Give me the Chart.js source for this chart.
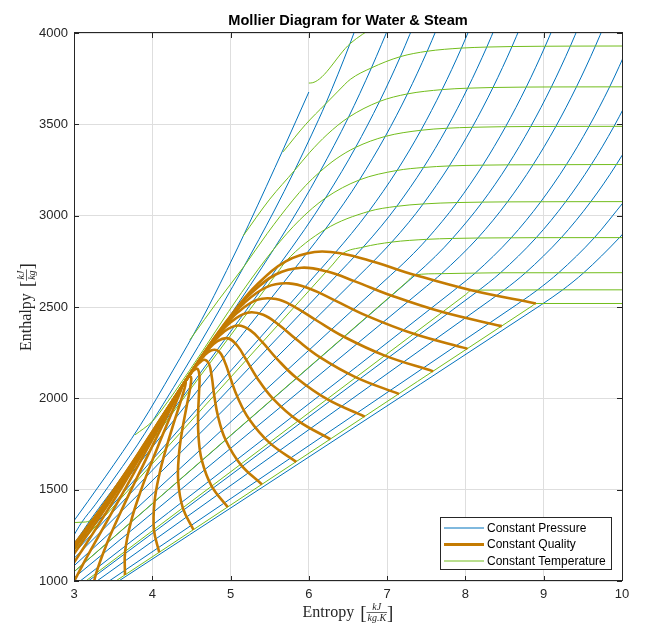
<!DOCTYPE html>
<html>
<head>
<meta charset="utf-8">
<script src="https://cdn.jsdelivr.net/npm/chart.js@4.4.1/dist/chart.umd.min.js"></script>
<style>
  html, body { margin: 0; padding: 0; background: #fff; }
  canvas { display: block; }
</style>
</head>
<body>
<canvas id="mollier" width="658" height="634"></canvas>
<script>
// axis ticks
const entropyTicks = [3, 4, 5, 6, 7, 8, 9, 10];
const enthalpyTicks = [1000, 1500, 2000, 2500, 3000, 3500, 4000];

// constant quality lines, points at T = 10,50,100,150,200,250,300,340,360,370,374 C
const qualities = [0, 0.05, 0.1, 0.15, 0.2, 0.25, 0.3, 0.35, 0.4, 0.45, 0.5,
                   0.55, 0.6, 0.65, 0.7, 0.75, 0.8, 0.85, 0.9, 0.95, 1];
const qualityS = [
  [0.151, 0.704, 1.307, 1.842, 2.331, 2.793, 3.255, 3.660, 3.915, 4.111, 4.407],
  [0.589, 1.073, 1.609, 2.092, 2.536, 2.957, 3.378, 3.744, 3.972, 4.145, 4.407],
  [1.026, 1.441, 1.912, 2.342, 2.741, 3.121, 3.500, 3.828, 4.029, 4.180, 4.407],
  [1.464, 1.810, 2.214, 2.591, 2.946, 3.285, 3.623, 3.911, 4.086, 4.214, 4.407],
  [1.901, 2.178, 2.517, 2.841, 3.151, 3.449, 3.745, 3.995, 4.143, 4.249, 4.407],
  [2.339, 2.547, 2.819, 3.091, 3.356, 3.613, 3.868, 4.079, 4.200, 4.283, 4.407],
  [2.776, 2.916, 3.121, 3.341, 3.561, 3.777, 3.990, 4.163, 4.256, 4.317, 4.407],
  [3.214, 3.284, 3.424, 3.591, 3.766, 3.941, 4.113, 4.247, 4.313, 4.352, 4.407],
  [3.651, 3.653, 3.726, 3.840, 3.971, 4.105, 4.235, 4.330, 4.370, 4.386, 4.407],
  [4.089, 4.021, 4.029, 4.090, 4.176, 4.269, 4.358, 4.414, 4.427, 4.421, 4.407],
  [4.526, 4.390, 4.331, 4.340, 4.381, 4.433, 4.480, 4.498, 4.484, 4.455, 4.407],
  [4.964, 4.758, 4.633, 4.590, 4.586, 4.597, 4.603, 4.582, 4.541, 4.489, 4.407],
  [5.401, 5.127, 4.936, 4.840, 4.791, 4.761, 4.725, 4.666, 4.598, 4.524, 4.407],
  [5.839, 5.496, 5.238, 5.089, 4.996, 4.925, 4.848, 4.749, 4.655, 4.558, 4.407],
  [6.276, 5.864, 5.541, 5.339, 5.201, 5.089, 4.970, 4.833, 4.712, 4.593, 4.407],
  [6.714, 6.233, 5.843, 5.589, 5.406, 5.253, 5.093, 4.917, 4.769, 4.627, 4.407],
  [7.151, 6.602, 6.145, 5.839, 5.611, 5.417, 5.215, 5.001, 4.825, 4.661, 4.407],
  [7.589, 6.970, 6.448, 6.089, 5.816, 5.581, 5.338, 5.085, 4.882, 4.696, 4.407],
  [8.026, 7.339, 6.750, 6.338, 6.021, 5.745, 5.460, 5.168, 4.939, 4.730, 4.407],
  [8.464, 7.707, 7.053, 6.588, 6.226, 5.909, 5.583, 5.252, 4.996, 4.765, 4.407],
  [8.900, 8.075, 7.354, 6.837, 6.430, 6.072, 5.705, 5.336, 5.053, 4.798, 4.407]
];
const qualityH = [
  [42.0, 209.3, 419.2, 632.2, 852.3, 1085.7, 1344.8, 1594.5, 1760.5, 1890.7, 2084.3],
  [165.9, 328.4, 532.0, 737.9, 949.3, 1171.5, 1415.0, 1645.9, 1796.5, 1912.9, 2084.3],
  [289.7, 447.5, 644.8, 843.6, 1046.3, 1257.2, 1485.3, 1697.3, 1832.6, 1935.1, 2084.3],
  [413.6, 566.6, 757.7, 949.3, 1143.3, 1343.0, 1555.5, 1748.6, 1868.6, 1957.3, 2084.3],
  [537.4, 685.7, 870.5, 1055.0, 1240.3, 1428.7, 1625.8, 1800.0, 1904.6, 1979.5, 2084.3],
  [661.3, 804.8, 983.3, 1160.7, 1337.3, 1514.5, 1696.0, 1851.4, 1940.7, 2001.7, 2084.3],
  [785.2, 923.9, 1096.1, 1266.3, 1434.2, 1600.3, 1766.2, 1902.8, 1976.7, 2023.8, 2084.3],
  [909.0, 1043.0, 1208.9, 1372.0, 1531.2, 1686.0, 1836.5, 1954.2, 2012.7, 2046.0, 2084.3],
  [1032.9, 1162.1, 1321.8, 1477.7, 1628.2, 1771.8, 1906.7, 2005.5, 2048.7, 2068.2, 2084.3],
  [1156.7, 1281.2, 1434.6, 1583.4, 1725.2, 1857.6, 1976.9, 2056.9, 2084.8, 2090.4, 2084.3],
  [1280.6, 1400.3, 1547.4, 1689.1, 1822.2, 1943.3, 2047.2, 2108.3, 2120.8, 2112.6, 2084.3],
  [1404.5, 1519.4, 1660.2, 1794.8, 1919.2, 2029.1, 2117.4, 2159.7, 2156.8, 2134.8, 2084.3],
  [1528.3, 1638.5, 1773.0, 1900.5, 2016.2, 2114.8, 2187.7, 2211.1, 2192.9, 2157.0, 2084.3],
  [1652.2, 1757.6, 1885.9, 2006.2, 2113.2, 2200.6, 2257.9, 2262.4, 2228.9, 2179.2, 2084.3],
  [1776.0, 1876.7, 1998.7, 2111.9, 2210.2, 2286.3, 2328.2, 2313.8, 2264.9, 2201.4, 2084.3],
  [1899.9, 1995.8, 2111.5, 2217.6, 2307.2, 2372.1, 2398.4, 2365.2, 2300.9, 2223.6, 2084.3],
  [2023.8, 2114.9, 2224.3, 2323.2, 2404.1, 2457.9, 2468.6, 2416.6, 2337.0, 2245.8, 2084.3],
  [2147.6, 2234.0, 2337.1, 2428.9, 2501.1, 2543.6, 2538.9, 2467.9, 2373.0, 2268.0, 2084.3],
  [2271.5, 2353.1, 2449.9, 2534.6, 2598.1, 2629.4, 2609.1, 2519.3, 2409.1, 2290.1, 2084.3],
  [2395.3, 2472.2, 2562.8, 2640.3, 2695.1, 2715.1, 2679.4, 2570.7, 2445.1, 2312.3, 2084.3],
  [2519.2, 2591.3, 2675.6, 2745.9, 2792.0, 2800.9, 2749.6, 2622.0, 2481.0, 2334.5, 2084.3]
];

// constant pressure lines
const pressures = ['1 kPa', '2 kPa', '5 kPa', '10 kPa', '20 kPa', '50 kPa', '100 kPa', '200 kPa',
                   '500 kPa', '1 MPa', '2 MPa', '5 MPa', '10 MPa', '20 MPa', '50 MPa', '100 MPa'];
const pressureS = [
  [3.0, 8.9, 8.975, 9.238, 9.511, 9.967, 10.17],
  [3.0, 8.65, 8.723, 8.918, 9.191, 9.647, 10.024],
  [3.0, 8.32, 8.394, 8.495, 8.768, 9.224, 9.601, 9.928, 10.218],
  [3.0, 8.07, 8.149, 8.448, 8.904, 9.281, 9.608, 9.898, 10.161],
  [3.0, 7.83, 7.907, 8.126, 8.585, 8.962, 9.289, 9.579, 9.842, 10.083],
  [3.0, 7.5, 7.593, 7.695, 8.158, 8.537, 8.864, 9.155, 9.418, 9.660, 9.885],
  [3.0, 7.27, 7.359, 7.615, 7.834, 8.216, 8.544, 8.834, 9.098, 9.340, 9.565],
  [3.0, 7.04, 7.127, 7.281, 7.507, 7.893, 8.222, 8.513, 8.777, 9.019, 9.245],
  [3.0, 6.74, 6.821, 7.059, 7.272, 7.460, 7.794, 8.087, 8.352, 8.595, 8.821],
  [3.0, 6.5, 6.585, 6.694, 6.925, 7.123, 7.465, 7.762, 8.029, 8.273, 8.500],
  [3.0, 6.25, 6.339, 6.545, 6.766, 7.127, 7.432, 7.702, 7.949, 8.177],
  [3.0, 5.88, 5.973, 6.208, 6.449, 6.646, 6.976, 7.259, 7.512, 7.744],
  [3.0, 3.062, 3.36, 3.45, 5.53, 5.615, 5.944, 6.212, 6.419, 6.597, 6.903, 7.169, 7.408],
  [3.0, 3.048, 3.207, 3.64, 4.015, 4.1, 4.85, 4.927, 5.554, 5.902, 6.140, 6.505, 6.799, 7.058],
  [2.96, 3.10, 3.27, 3.44, 3.62, 3.81, 4.003, 4.273, 4.588, 5.173, 5.549, 5.818, 6.034, 6.219, 6.525, 6.66],
  [2.95, 3.40, 3.85, 4.26, 4.63, 4.95, 5.23, 5.68, 6.0]
];
const pressureH = [
  [840.0, 2492.7, 2514.0, 2592.6, 2687.5, 2879.5, 2978],
  [869.5, 2511.7, 2533.0, 2592.6, 2687.5, 2879.5, 3076.5],
  [910.3, 2538.5, 2561.2, 2592.6, 2687.5, 2879.5, 3076.5, 3279.6, 3489],
  [941.7, 2558.8, 2583.9, 2687.5, 2879.5, 3076.5, 3279.6, 3489.1, 3705.4],
  [973.8, 2583.2, 2609.7, 2686, 2879, 3076, 3279, 3489, 3705, 3929],
  [1017.2, 2612.3, 2645.2, 2682.5, 2877.7, 3075.5, 3278.9, 3488.7, 3705.1, 3928.5, 4159],
  [1050.1, 2641.8, 2675.0, 2776.6, 2875.3, 3074.3, 3278.2, 3488.1, 3704.7, 3928.2, 4158.6],
  [1083.0, 2672.2, 2706.3, 2769.1, 2870.5, 3071.8, 3276.6, 3487.1, 3704.0, 3927.6, 4158],
  [1124.3, 2713.7, 2748.1, 2855.4, 2961.0, 3064.2, 3272.3, 3483.9, 3701.7, 3925.9, 4156.9],
  [1152.9, 2738.5, 2777.1, 2827.9, 2942.6, 3051.2, 3263.9, 3478.5, 3697.9, 3923.1, 4154.8],
  [1177.3, 2755.4, 2798.3, 2902.5, 3023.5, 3247.6, 3467.6, 3690.1, 3917.4, 4150],
  [1196.6, 2743.4, 2794.3, 2924.5, 3068.4, 3195.7, 3433.8, 3666.5, 3900.1, 4137],
  [1201, 1235, 1407.6, 1460.2, 2675.2, 2725.5, 2923.4, 3096.5, 3240.9, 3373.7, 3625.3, 3870.5, 4114.9],
  [1207, 1233, 1333.3, 1586, 1826.3, 1880.6, 2360.8, 2410, 2818.1, 3060.1, 3239.3, 3537.6, 3809.0, 4069.7],
  [1222, 1322, 1417, 1518, 1627, 1745, 1874.7, 2060.7, 2284.7, 2723, 3020, 3248, 3442, 3617, 3941, 4100],
  [1300, 1570, 1855, 2150, 2430, 2700, 2950, 3370, 3677]
];

// constant temperature lines
const temperatures = ['10 C', '50 C', '100 C', '200 C', '300 C', '400 C', '500 C', '600 C', '700 C', '800 C'];
const temperatureS = [
  [3.0, 8.85, 8.900, 10.2],
  [3.0, 8.0, 8.075, 8.175, 9.238, 10.2],
  [3.0, 7.25, 7.354, 7.695, 8.448, 9.511, 10.2],
  [3.0, 6.3, 6.430, 6.694, 7.059, 7.507, 7.834, 8.158, 8.904, 10.2],
  [2.9, 3.15, 3.255, 3.35, 5.6, 5.705, 6.208, 6.766, 7.123, 7.460, 7.893, 8.216, 8.537, 9.281, 10.2],
  [3.78, 4.003, 4.11, 4.476, 5.142, 5.554, 5.881, 6.212, 6.646, 7.127, 7.465, 7.794, 8.222, 8.544, 9.608, 10.2],
  [4.48, 4.85, 5.173, 5.470, 5.796, 5.961, 6.140, 6.348, 6.597, 6.976, 7.432, 7.762, 8.087, 8.834, 9.898, 10.2],
  [5.16, 5.50, 5.818, 6.011, 6.233, 6.505, 6.903, 7.259, 7.702, 8.029, 8.352, 8.777, 9.098, 10.161, 10.3],
  [5.67, 5.96, 6.21, 6.375, 6.529, 6.799, 7.169, 7.512, 7.949, 8.273, 8.595, 9.340, 9.660, 10.2],
  [6.0, 6.05, 6.525, 6.85]
];
const temperatureH = [
  [848.7, 2505.2, 2519.2, 2519.2],
  [951.3, 2567.0, 2591.3, 2592.6, 2594, 2594],
  [1050.9, 2636.8, 2675.6, 2682.5, 2687.5, 2687.5, 2688],
  [1168.8, 2730.2, 2792.0, 2827.9, 2855.4, 2870.5, 2875.3, 2877.7, 2879.5, 2880],
  [1320, 1323, 1344.8, 1399.2, 2688.8, 2749.6, 2924.5, 3023.5, 3051.2, 3064.2, 3071.8, 3074.3, 3075.5, 3076.5, 3077],
  [1800, 1874.7, 1930.9, 2152.8, 2580.2, 2818.1, 2975.7, 3096.5, 3195.7, 3247.6, 3263.9, 3272.3, 3276.6, 3278.2, 3279.6, 3280],
  [2320, 2540, 2723, 2903.3, 3084.8, 3165.9, 3239.3, 3310.8, 3373.7, 3433.8, 3467.6, 3478.5, 3483.9, 3488.1, 3489.1, 3489],
  [2889, 3090, 3248, 3346.4, 3443.9, 3537.6, 3625.3, 3666.5, 3690.1, 3697.9, 3701.7, 3704.0, 3704.7, 3705.4, 3705.4],
  [3349, 3500, 3610, 3682, 3746, 3809.0, 3870.5, 3900.1, 3917.4, 3923.1, 3925.9, 3928.2, 3928.5, 3929],
  [3726, 3728, 3941, 4040]
];

const BLUE = '#0072BD';
const ORANGE = '#C47B02';
const GREEN = '#72BD1C';
const AXIS = '#262626';
const SANS = '"Liberation Sans", Arial, Helvetica, sans-serif';
const SERIF = '"Liberation Serif", "Times New Roman", serif';

function toPoints(sArr, hArr) {
    return sArr.map((s, i) => ({x: s, y: hArr[i]}));
}

const datasets = [];
// first dataset ends up on top, so quality lines go first
qualities.forEach((q, i) => datasets.push({
    label: 'x = ' + q, data: toPoints(qualityS[i], qualityH[i]),
    borderColor: ORANGE, borderWidth: 2.6, tension: 0.4
}));
temperatures.forEach((t, i) => datasets.push({
    label: t, data: toPoints(temperatureS[i], temperatureH[i]),
    borderColor: GREEN, borderWidth: 1, cubicInterpolationMode: 'monotone'
}));
pressures.forEach((p, i) => datasets.push({
    label: p, data: toPoints(pressureS[i], pressureH[i]),
    borderColor: BLUE, borderWidth: 1, cubicInterpolationMode: 'monotone'
}));
datasets.forEach(d => Object.assign(d, {showLine: true, pointRadius: 0, fill: false, clip: 0}));

const legendItems = [
    {text: 'Constant Pressure', color: BLUE, width: 1},
    {text: 'Constant Quality', color: ORANGE, width: 3},
    {text: 'Constant Temperature', color: GREEN, width: 1}
];

// LaTeX-like label: word [num/den]
function drawAxisLabel(ctx, cx, cy, angle, word, num, den) {
    ctx.save();
    ctx.translate(cx, cy);
    ctx.rotate(angle);
    ctx.fillStyle = AXIS;
    ctx.textAlign = 'left';
    ctx.textBaseline = 'alphabetic';
    const mainFont = '16px ' + SERIF;
    const fracFont = 'italic 10px ' + SERIF;
    const brFont = '19px ' + SERIF;
    ctx.font = mainFont;
    const wWord = ctx.measureText(word).width;
    ctx.font = brFont;
    const wBr = ctx.measureText('[').width;
    ctx.font = fracFont;
    const wNum = ctx.measureText(num).width;
    const wDen = ctx.measureText(den).width;
    const wFrac = Math.max(wNum, wDen) + 2;
    const gap = 6;
    let x = -(wWord + gap + wBr * 2 + wFrac) / 2;
    ctx.font = mainFont;
    ctx.fillText(word, x, 0);
    x += wWord + gap;
    ctx.font = brFont;
    ctx.fillText('[', x, 2);
    x += wBr;
    ctx.font = fracFont;
    ctx.fillText(num, x + (wFrac - wNum) / 2, -7);
    ctx.fillText(den, x + (wFrac - wDen) / 2, 3.5);
    ctx.fillRect(x, -5, wFrac, 0.7);
    x += wFrac;
    ctx.font = brFont;
    ctx.fillText(']', x, 2);
    ctx.restore();
}

const framePlugin = {
    id: 'frame',
    afterDraw(chart) {
        const ctx = chart.ctx;
        const a = chart.chartArea;
        const xs = chart.scales.x, ys = chart.scales.y;
        ctx.save();
        ctx.strokeStyle = AXIS;
        ctx.lineWidth = 1;
        ctx.strokeRect(a.left + 0.5, a.top - 0.5, a.right - a.left, a.bottom - a.top);
        // inward ticks on all four sides
        ctx.beginPath();
        entropyTicks.forEach(v => {
            const px = Math.round(xs.getPixelForValue(v)) + 0.5;
            ctx.moveTo(px, a.bottom); ctx.lineTo(px, a.bottom - 5);
            ctx.moveTo(px, a.top); ctx.lineTo(px, a.top + 5);
        });
        enthalpyTicks.forEach(v => {
            const py = Math.round(ys.getPixelForValue(v)) + 0.5;
            ctx.moveTo(a.left, py); ctx.lineTo(a.left + 5, py);
            ctx.moveTo(a.right, py); ctx.lineTo(a.right - 5, py);
        });
        ctx.stroke();

        // legend box
        const bx = 440.5, by = 517.5, bw = 171, bh = 52;
        ctx.fillStyle = '#fff';
        ctx.fillRect(bx, by, bw, bh);
        ctx.strokeStyle = AXIS;
        ctx.strokeRect(bx, by, bw, bh);
        ctx.font = '12px ' + SANS;
        ctx.textAlign = 'left';
        ctx.textBaseline = 'middle';
        legendItems.forEach((item, i) => {
            const y = 528 + i * 16.5;
            ctx.beginPath();
            ctx.strokeStyle = item.color;
            ctx.lineWidth = item.width;
            ctx.moveTo(444, y); ctx.lineTo(484, y);
            ctx.stroke();
            ctx.fillStyle = '#000';
            ctx.fillText(item.text, 487, y + 0.5);
        });

        // title
        ctx.fillStyle = '#000';
        ctx.font = 'bold 14.6px ' + SANS;
        ctx.textAlign = 'center';
        ctx.textBaseline = 'alphabetic';
        ctx.fillText('Mollier Diagram for Water & Steam', (a.left + a.right) / 2, 25);

        drawAxisLabel(ctx, (a.left + a.right) / 2, 617, 0, 'Entropy', 'kJ', 'kg.K');
        drawAxisLabel(ctx, 31, (a.top + a.bottom) / 2, -Math.PI / 2, 'Enthalpy', 'kJ', 'kg');
        ctx.restore();
    }
};

const tickFont = {family: SANS, size: 13};

new Chart(document.getElementById('mollier'), {
    type: 'scatter',
    data: {datasets: datasets},
    options: {
        responsive: false,
        animation: false,
        devicePixelRatio: 1,
        layout: {padding: {top: 33, right: 36, left: 0, bottom: 0}},
        elements: {line: {capBezierPoints: false}},
        plugins: {legend: {display: false}, tooltip: {enabled: false}},
        events: [],
        scales: {
            x: {
                type: 'linear', min: 3, max: 10,
                afterFit: (s) => { s.height = 53; },
                afterBuildTicks: (s) => { s.ticks = entropyTicks.map(v => ({value: v})); },
                grid: {color: '#dedede', drawTicks: false},
                border: {display: false},
                ticks: {padding: 6, color: AXIS, font: tickFont, maxRotation: 0, autoSkip: false,
                        callback: (v) => String(v)}
            },
            y: {
                type: 'linear', min: 1000, max: 4000,
                afterFit: (s) => { s.width = 74; },
                afterBuildTicks: (s) => { s.ticks = enthalpyTicks.map(v => ({value: v})); },
                grid: {color: '#dedede', drawTicks: false},
                border: {display: false},
                ticks: {padding: 6, color: AXIS, font: tickFont, autoSkip: false,
                        callback: (v) => String(v)}
            }
        }
    },
    plugins: [framePlugin]
});
</script>
</body>
</html>
